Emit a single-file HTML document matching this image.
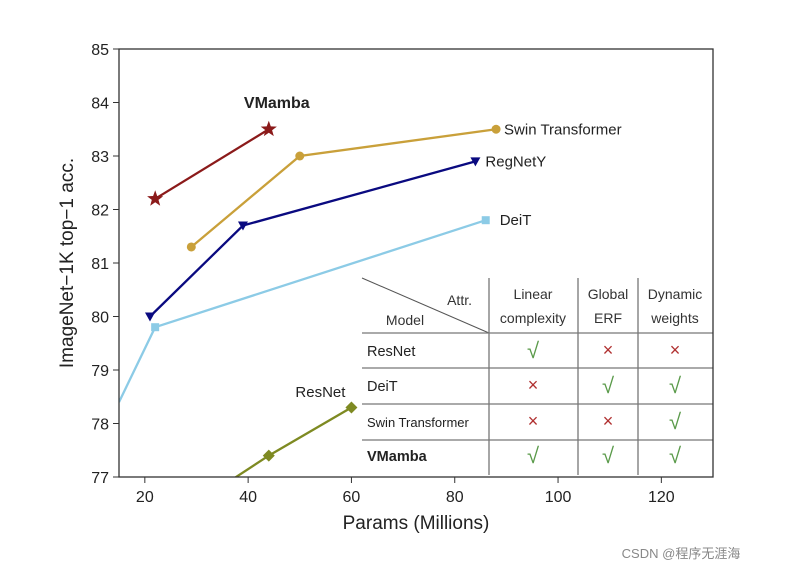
<!DOCTYPE html>
<html><head><meta charset="utf-8"><style>
body{margin:0;background:#fff;width:786px;height:578px;overflow:hidden}
svg{font-family:"Liberation Sans","DejaVu Sans",sans-serif}
</style></head><body>
<svg id="c" width="786" height="578"></svg>
<script>
const xTicks=[20,40,60,80,100,120];
const yTicks=[77,78,79,80,81,82,83,84,85];
const seriesNames=["VMamba","Swin Transformer","RegNetY","DeiT","ResNet"];
const vmambaX=[22,44], vmambaY=[82.2,83.5];
const swinX=[29,50,88], swinY=[81.3,83.0,83.5];
const regnetX=[21,39,84], regnetY=[80.0,81.7,82.9];
const deitX=[15,22,86], deitY=[78.4,79.8,81.8];
const resnetX=[25,44,60], resnetY=[76.2,77.4,78.3];
const tableRows=["ResNet","DeiT","Swin Transformer","VMamba"];
const tableVals=[[1,0,0],[0,1,1],[0,0,1],[1,1,1]];

const NS="http://www.w3.org/2000/svg";
const svg=document.getElementById('c');
const L=119,R=713,T=49,B=477,x0=15,x1=130,y0=77,y1=85;
const X=v=>L+(v-x0)/(x1-x0)*(R-L);
const Y=v=>B-(v-y0)/(y1-y0)*(B-T);
function el(t,a,p){const e=document.createElementNS(NS,t);for(const k in a)e.setAttribute(k,a[k]);(p||svg).appendChild(e);return e;}
const defs=el('defs',{});const cp=el('clipPath',{id:'clip'},defs);el('rect',{x:L,y:T,width:R-L,height:B-T},cp);
const g=el('g',{'clip-path':'url(#clip)'});
function marker(type,cx,cy,col){let e;
 if(type==='star'){let p=[];for(let i=0;i<10;i++){const r=i%2?3.5:8.5,a=-Math.PI/2+i*Math.PI/5;p.push((cx+r*Math.cos(a)).toFixed(1)+','+(cy+r*Math.sin(a)).toFixed(1));}e=el('polygon',{points:p.join(' '),fill:col},g);}
 else if(type==='circle')e=el('circle',{cx,cy,r:4.5,fill:col},g);
 else if(type==='tri')e=el('polygon',{points:`${cx-5},${cy-4} ${cx+5},${cy-4} ${cx},${cy+5}`,fill:col},g);
 else if(type==='square')e=el('rect',{x:cx-4,y:cy-4,width:8,height:8,fill:col},g);
 else e=el('polygon',{points:`${cx},${cy-6} ${cx+6},${cy} ${cx},${cy+6} ${cx-6},${cy}`,fill:col},g);
 return e;}
const S=[[vmambaX,vmambaY,'#8b1a1a','star'],[swinX,swinY,'#c9a03a','circle'],[regnetX,regnetY,'#0a0a80','tri'],[deitX,deitY,'#8ccbe6','square'],[resnetX,resnetY,'#7e8a22','diamond']];
S.forEach((s,i)=>{
 const pl=el('polyline',{points:s[0].map((v,j)=>X(v)+','+Y(s[1][j])).join(' '),fill:'none',stroke:s[2],'stroke-width':2.3},g);
 
 
 s[0].forEach((v,j)=>{if(v<=x0)return;const m=marker(s[3],X(v),Y(s[1][j]),s[2]);
  
  });
});
function txt(s,x,y,a){const t=el('text',Object.assign({x,y,'font-size':15,fill:'#222'},a||{}));t.textContent=s;return t;}
const lb1=txt('VMamba',X(vmambaX[1])+8,Y(83.9),{'text-anchor':'middle','font-weight':'bold','font-size':16});

const lb2=txt('Swin Transformer',X(swinX[2])+8,Y(swinY[2])+5);
const lb3=txt('RegNetY',X(regnetX[2])+10,Y(regnetY[2])+5);
const lb4=txt('DeiT',X(deitX[2])+14,Y(deitY[2])+5);
const lb5=txt('ResNet',X(resnetX[2])-6,Y(78.5),{'text-anchor':'end'});
// table
const tg=el('g',{});
el('rect',{x:362,y:278,width:R-362,height:B-278,fill:'#fff'},tg);
el('line',{x1:362,y1:278,x2:489,y2:333,stroke:'#555','stroke-width':1},tg);
[489,578,638].forEach(x=>el('line',{x1:x,y1:278,x2:x,y2:475,stroke:'#777','stroke-width':1.3},tg));
[333,368,404,440].forEach(y=>el('line',{x1:362,y1:y,x2:R,y2:y,stroke:'#777','stroke-width':1.3},tg));
const th=(s,x,y,a)=>{const t=txt(s,x,y,Object.assign({'font-size':14,fill:'#333'},a||{}));tg.appendChild(t);return t;};
th('Attr.',472,305,{'text-anchor':'end'});th('Model',405,325,{'text-anchor':'middle'});
th('Linear',533,299,{'text-anchor':'middle'});th('complexity',533,323,{'text-anchor':'middle'});
th('Global',608,299,{'text-anchor':'middle'});th('ERF',608,323,{'text-anchor':'middle'});
th('Dynamic',675,299,{'text-anchor':'middle'});th('weights',675,323,{'text-anchor':'middle'});
const rowY=[356,391,427,461],colX=[533,608,675];
tableRows.forEach((r,i)=>{th(r,367,rowY[i],{'font-size':i==2?13:14.5,'font-weight':i==3?'bold':'normal',fill:'#222'});
 tableVals[i].forEach((v,j)=>{const t=th(v?'√':'×',colX[j],rowY[i]+(v?2:0),{'text-anchor':'middle','font-size':v?22:18,fill:v?'#5a9a4a':'#b03030'});
  });});
// axes
el('rect',{x:L,y:T,width:R-L,height:B-T,fill:'none',stroke:'#333','stroke-width':1.3});
xTicks.forEach(v=>{el('line',{x1:X(v),y1:B,x2:X(v),y2:B+6,stroke:'#333'});const t=txt(String(v),X(v),B+25,{'text-anchor':'middle','font-size':16});
 });
yTicks.forEach(v=>{el('line',{x1:L-6,y1:Y(v),x2:L,y2:Y(v),stroke:'#333'});const t=txt(String(v),L-10,Y(v)+6,{'text-anchor':'end','font-size':16});
 });
const xt=txt('Params (Millions)',416,529,{'text-anchor':'middle','font-size':19});
const yt=txt('ImageNet−1K top−1 acc.',0,0,{'text-anchor':'middle','font-size':19,transform:'translate(73,263) rotate(-90)'});
const wm=txt('CSDN @程序无涯海',681,558,{'text-anchor':'middle','font-size':13,fill:'#888','font-family':'"Liberation Sans","Noto Sans CJK SC",sans-serif'});
</script>
</body></html>
